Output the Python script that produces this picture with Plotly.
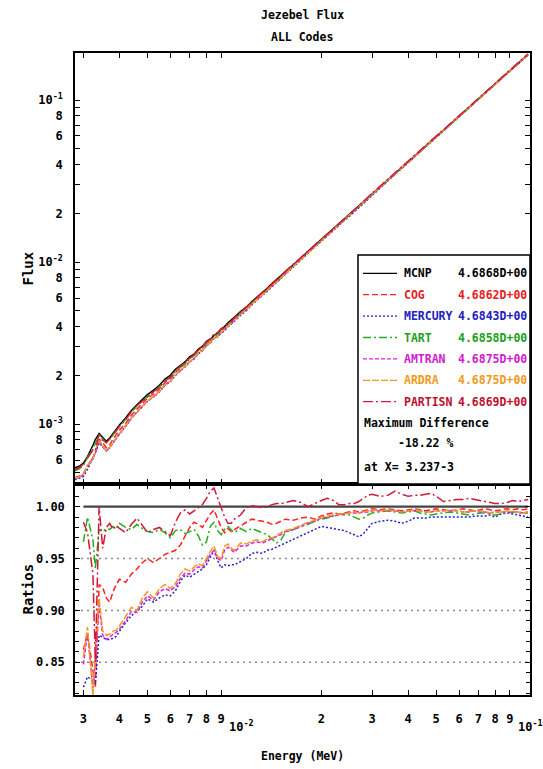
import math
import plotly.graph_objects as go

# ---------------- data ----------------
energy_mev = [2.8e-3, 2.9e-3, 3.0e-3, 3.1e-3, 3.237e-3, 3.3e-3, 3.4e-3, 3.5e-3, 3.6e-3, 3.7e-3,
              3.8e-3, 3.9e-3, 4.0e-3, 4.2e-3, 4.4e-3, 4.6e-3, 4.8e-3,
              5.0e-3, 5.25e-3, 5.5e-3, 5.75e-3, 6.0e-3, 6.25e-3, 6.5e-3, 6.75e-3, 7.0e-3, 7.25e-3,
              7.5e-3, 7.75e-3, 8.0e-3, 8.25e-3, 8.5e-3, 8.75e-3, 9.0e-3, 9.25e-3, 9.5e-3, 9.75e-3,
              1.0e-2, 1.05e-2, 1.1e-2, 1.15e-2, 1.2e-2, 1.25e-2, 1.3e-2, 1.35e-2, 1.4e-2, 1.45e-2, 1.5e-2,
              1.6e-2, 1.7e-2, 1.8e-2, 1.9e-2, 2.0e-2, 2.1e-2, 2.2e-2, 2.3e-2, 2.4e-2, 2.5e-2, 2.6e-2,
              2.7e-2, 2.8e-2, 2.9e-2, 3.0e-2,
              3.2e-2, 3.4e-2, 3.6e-2, 3.8e-2, 4.0e-2, 4.2e-2, 4.4e-2, 4.6e-2, 4.8e-2, 5.0e-2,
              5.3e-2, 5.6e-2, 5.9e-2, 6.2e-2, 6.5e-2, 6.8e-2, 7.1e-2, 7.4e-2, 7.7e-2, 8.0e-2,
              8.4e-2, 8.8e-2, 9.2e-2, 9.6e-2, 1.0e-1, 1.04e-1]

mcnp_flux = [5.37e-4, 5.50e-4, 5.75e-4, 6.31e-4, 7.41e-4, 8.04e-4, 8.75e-4, 8.32e-4, 7.85e-4, 8.22e-4,
             8.81e-4, 9.33e-4, 9.89e-4, 1.091e-3, 1.216e-3, 1.318e-3, 1.413e-3,
             1.521e-3, 1.622e-3, 1.738e-3, 1.897e-3, 2.004e-3, 2.178e-3, 2.291e-3, 2.421e-3, 2.600e-3, 2.704e-3,
             2.897e-3, 3.020e-3, 3.221e-3, 3.327e-3, 3.532e-3, 3.648e-3, 3.873e-3, 3.999e-3, 4.217e-3, 4.365e-3,
             4.571e-3, 4.943e-3, 5.272e-3, 5.715e-3, 6.081e-3, 6.516e-3, 6.902e-3, 7.362e-3, 7.780e-3, 8.222e-3, 8.710e-3,
             9.616e-3, 1.059e-2, 1.164e-2, 1.268e-2, 1.374e-2, 1.486e-2, 1.603e-2, 1.718e-2, 1.841e-2, 1.963e-2, 2.089e-2,
             2.218e-2, 2.355e-2, 2.489e-2, 2.624e-2,
             2.911e-2, 3.206e-2, 3.516e-2, 3.828e-2, 4.159e-2, 4.487e-2, 4.842e-2, 5.188e-2, 5.559e-2, 5.929e-2,
             6.516e-2, 7.112e-2, 7.727e-2, 8.375e-2, 9.016e-2, 9.705e-2, 0.1040, 0.1109, 0.1183, 0.1256,
             0.1358, 0.1462, 0.1570, 0.1683, 0.1795, 0.1910]

cog_ratio = [0.870, 0.870,
             0.862, 0.878, 0.842, 0.826, 0.925, 0.922, 0.912, 0.908, 0.918, 0.925, 0.930, 0.927, 0.935, 0.940, 0.946,
             0.950, 0.946, 0.950, 0.954, 0.956, 0.958, 0.963, 0.972, 0.980, 0.985, 0.983, 0.980, 0.986, 0.993, 0.997, 0.988, 0.980, 0.975, 0.979, 0.976,
             0.978, 0.982, 0.985, 0.988, 0.987, 0.986, 0.985, 0.983, 0.984, 0.986, 0.988,
             0.987, 0.989, 0.990, 0.988, 0.991, 0.993, 0.994, 0.993, 0.994, 0.995, 0.996, 0.995, 0.996, 0.997, 0.998,
             0.997, 0.998, 0.997, 0.996, 0.997, 0.998, 0.997, 0.996, 0.997, 0.998,
             0.997, 0.996, 0.997, 0.998, 0.997, 0.996, 0.997, 0.998, 0.997, 0.996,
             0.997, 0.998, 0.997, 0.998, 0.997, 0.998]

mercury_ratio = [0.845, 0.840,
                 0.826, 0.836, 0.832, 0.829, 0.876, 0.874, 0.872, 0.872, 0.873, 0.875, 0.880, 0.888, 0.895, 0.899, 0.904,
                 0.911, 0.908, 0.912, 0.915, 0.914, 0.919, 0.928, 0.934, 0.932, 0.935, 0.938, 0.940, 0.944, 0.951, 0.958, 0.948, 0.941, 0.944, 0.943, 0.944,
                 0.944, 0.947, 0.950, 0.955, 0.956, 0.955, 0.958, 0.959, 0.961, 0.963, 0.965,
                 0.968, 0.972, 0.975, 0.978, 0.981, 0.980, 0.979, 0.978, 0.977, 0.975, 0.973, 0.971, 0.974, 0.979, 0.984,
                 0.986, 0.987, 0.986, 0.984, 0.986, 0.989, 0.989, 0.989, 0.990, 0.990,
                 0.990, 0.990, 0.990, 0.990, 0.990, 0.991, 0.991, 0.991, 0.992, 0.990,
                 0.993, 0.994, 0.993, 0.992, 0.991, 0.990]

tart_ratio = [0.960, 0.965,
              0.966, 0.990, 0.968, 0.940, 0.978, 0.976, 0.979, 0.978, 0.981, 0.979, 0.984, 0.980, 0.978, 0.983, 0.979,
              0.976, 0.975, 0.978, 0.975, 0.970, 0.977, 0.978, 0.974, 0.976, 0.978, 0.972, 0.963, 0.966, 0.981, 0.985, 0.977, 0.973, 0.978, 0.981, 0.978,
              0.975, 0.979, 0.976, 0.979, 0.977, 0.975, 0.973, 0.969, 0.965, 0.968, 0.975,
              0.978, 0.981, 0.983, 0.986, 0.988, 0.989, 0.991, 0.993, 0.992, 0.992, 0.990, 0.988, 0.989, 0.992, 0.994,
              0.995, 0.996, 0.995, 0.994, 0.995, 0.996, 0.994, 0.993, 0.992, 0.993,
              0.994, 0.995, 0.994, 0.993, 0.992, 0.993, 0.994, 0.994, 0.993, 0.992,
              0.993, 0.994, 0.995, 0.994, 0.994, 0.994]

amtran_ratio = [0.860, 0.855,
                0.848, 0.878, 0.825, 0.852, 0.905, 0.876, 0.872, 0.874, 0.877, 0.879, 0.882, 0.890, 0.899, 0.898, 0.908,
                0.914, 0.910, 0.918, 0.921, 0.919, 0.923, 0.931, 0.936, 0.935, 0.939, 0.942, 0.941, 0.947, 0.954, 0.958, 0.950, 0.948, 0.958, 0.961, 0.958,
                0.956, 0.962, 0.962, 0.965, 0.966, 0.965, 0.967, 0.969, 0.971, 0.973, 0.976,
                0.978, 0.981, 0.984, 0.986, 0.989, 0.990, 0.991, 0.992, 0.993, 0.994, 0.994, 0.994, 0.995, 0.995, 0.996,
                0.996, 0.996, 0.996, 0.995, 0.996, 0.996, 0.996, 0.995, 0.995, 0.996,
                0.996, 0.996, 0.996, 0.995, 0.995, 0.996, 0.995, 0.995, 0.994, 0.995,
                0.995, 0.995, 0.995, 0.995, 0.994, 0.995]

ardra_ratio = [0.865, 0.860,
               0.855, 0.884, 0.8178, 0.860, 0.912, 0.880, 0.876, 0.877, 0.880, 0.881, 0.885, 0.894, 0.903, 0.900, 0.912,
               0.918, 0.912, 0.921, 0.925, 0.921, 0.926, 0.935, 0.940, 0.938, 0.942, 0.945, 0.943, 0.950, 0.957, 0.962, 0.952, 0.950, 0.962, 0.964, 0.960,
               0.958, 0.965, 0.964, 0.967, 0.968, 0.966, 0.969, 0.970, 0.972, 0.975, 0.977,
               0.979, 0.982, 0.985, 0.987, 0.990, 0.991, 0.992, 0.993, 0.993, 0.994, 0.995, 0.994, 0.995, 0.996, 0.997,
               0.996, 0.997, 0.996, 0.995, 0.996, 0.997, 0.996, 0.995, 0.995, 0.996,
               0.996, 0.997, 0.996, 0.995, 0.995, 0.996, 0.996, 0.995, 0.994, 0.995,
               0.995, 0.996, 0.995, 0.995, 0.994, 0.995]

partisn_ratio = [0.975, 0.980,
                 0.985, 0.975, 0.935, 0.850, 1.000, 0.960, 0.980, 0.984, 0.978, 0.982, 0.979, 0.975, 0.983, 0.989, 0.982,
                 0.975, 0.978, 0.980, 0.976, 0.972, 0.985, 0.994, 0.997, 0.993, 0.996, 0.999, 1.002, 1.008, 1.015, 1.018, 1.008, 0.998, 0.990, 0.984, 0.984,
                 0.988, 0.992, 0.999, 1.001, 1.000, 0.999, 1.000, 1.002, 1.003, 1.003, 1.004,
                 1.006, 1.004, 1.000, 1.003, 1.006, 1.008, 1.006, 1.002, 1.002, 1.003, 1.003, 1.005, 1.008, 1.011, 1.012,
                 1.010, 1.011, 1.015, 1.012, 1.010, 1.011, 1.011, 1.012, 1.013, 1.010,
                 1.005, 1.006, 1.007, 1.007, 1.008, 1.007, 1.006, 1.005, 1.004, 1.003,
                 1.003, 1.004, 1.006, 1.005, 1.006, 1.007]

codes = ["MCNP", "COG", "MERCURY", "TART", "AMTRAN", "ARDRA", "PARTISN"]
integral_text = ["4.6868D+00", "4.6862D+00", "4.6843D+00", "4.6858D+00",
                 "4.6875D+00", "4.6875D+00", "4.6869D+00"]
ratio_by_code = {
    "MCNP": [f / f for f in mcnp_flux],
    "COG": cog_ratio, "MERCURY": mercury_ratio, "TART": tart_ratio,
    "AMTRAN": amtran_ratio, "ARDRA": ardra_ratio, "PARTISN": partisn_ratio,
}
RATIO_START_MEV = 3.0e-3

x_tick_vals = [3e-3, 4e-3, 5e-3, 6e-3, 7e-3, 8e-3, 9e-3,
               2e-2, 3e-2, 4e-2, 5e-2, 6e-2, 7e-2, 8e-2, 9e-2]
x_tick_text = ["3", "4", "5", "6", "7", "8", "9",
               "2", "3", "4", "5", "6", "7", "8", "9"]
x_decade_vals = [1e-2, 1e-1]
x_decade_text = ["10<sup>-2</sup>", "10<sup>-1</sup>"]
flux_tick_vals = [6e-4, 8e-4, 1e-3, 2e-3, 4e-3, 6e-3, 8e-3,
                  1e-2, 2e-2, 4e-2, 6e-2, 8e-2, 1e-1]
flux_tick_text = ["6", "8", "10<sup>-3</sup>", "2", "4", "6", "8",
                  "10<sup>-2</sup>", "2", "4", "6", "8", "10<sup>-1</sup>"]
flux_minor_vals = [5e-4, 7e-4, 9e-4, 3e-3, 5e-3, 7e-3, 9e-3, 3e-2, 5e-2, 7e-2, 9e-2]
ratio_tick_vals = [0.85, 0.90, 0.95, 1.00]
ratio_tick_text = ["0.85", "0.90", "0.95", "1.00"]

# ---------------- style ----------------
styles = {
    "MCNP": dict(color="#000000", dash="solid", text="#000000"),
    "COG": dict(color="#ff2222", dash="6px,3px", text="#e82020"),
    "MERCURY": dict(color="#2222d0", dash="2px,2px", text="#2020c0"),
    "TART": dict(color="#22b022", dash="8px,3px,2px,3px", text="#20a020"),
    "AMTRAN": dict(color="#e020e0", dash="4px,2px", text="#d020d0"),
    "ARDRA": dict(color="#f09a20", dash="7px,2px", text="#f09a20"),
    "PARTISN": dict(color="#d01838", dash="10px,3px,2px,3px", text="#c01030"),
}
MONO = "DejaVu Sans Mono, Liberation Mono, monospace"
WT = "bold"

W, H = 543, 769
ML, MR, MT, MB = 75, 13, 53, 74
PW, PH = W - ML - MR, H - MT - MB
SPLIT = 211 / PH  # ratio panel height fraction
X_RANGE = [-2.552, -0.976]
Y_RANGE = [-3.369, -0.710]
R_RANGE = [0.8184, 1.0219]


def pxx(px):
    return (px - ML) / PW


def pxy(py):
    return (H - MB - py) / PH


def fnt(size, color="black"):
    return dict(family=MONO, size=size, color=color, weight=WT)


fig = go.Figure()

for code in codes:
    st = styles[code]
    flux = [m * r for m, r in zip(mcnp_flux, ratio_by_code[code])]
    fig.add_trace(go.Scatter(x=energy_mev, y=flux, mode="lines", name=code,
                             xaxis="x", yaxis="y",
                             line=dict(color=st["color"], dash=st["dash"], width=1.5)))

for code in codes:
    st = styles[code]
    xs = [e for e in energy_mev if e >= RATIO_START_MEV]
    ys = [r for e, r in zip(energy_mev, ratio_by_code[code]) if e >= RATIO_START_MEV]
    if code == "MCNP":
        line = dict(color="#444444", width=2.2)
    else:
        line = dict(color=st["color"], dash=st["dash"], width=1.5)
    fig.add_trace(go.Scatter(x=xs, y=ys, mode="lines", name=code,
                             xaxis="x2", yaxis="y2", line=line))

axis_common = dict(showline=True, linecolor="black", linewidth=1.5, mirror="allticks",
                   ticks="inside", ticklen=5, tickwidth=1, tickcolor="black",
                   showgrid=False, zeroline=False, tickangle=0,
                   tickfont=fnt(12))

fig.update_layout(
    width=W, height=H,
    margin=dict(l=ML, r=MR, t=MT, b=MB),
    paper_bgcolor="white", plot_bgcolor="white",
    showlegend=False,
    font=dict(family=MONO, size=12, color="black"),
    xaxis=dict(type="log", range=X_RANGE, domain=[0, 1], anchor="y",
               tickmode="array", tickvals=x_tick_vals, ticktext=x_tick_text,
               showticklabels=False, **axis_common),
    yaxis=dict(type="log", range=Y_RANGE, domain=[SPLIT, 1], anchor="x",
               tickmode="array", tickvals=flux_tick_vals, ticktext=flux_tick_text,
               minor=dict(tickmode="array", tickvals=flux_minor_vals, ticklen=5,
                          ticks="inside", tickcolor="black", showgrid=False),
               ticklabelstandoff=8, **axis_common),
    xaxis2=dict(type="log", range=X_RANGE, domain=[0, 1], anchor="y2",
                tickmode="array", tickvals=x_tick_vals, ticktext=x_tick_text,
                ticklabelstandoff=12, **axis_common),
    yaxis2=dict(range=R_RANGE, domain=[0, SPLIT], anchor="x2",
                tickmode="array", tickvals=ratio_tick_vals, ticktext=ratio_tick_text,
                ticklabelstandoff=6,
                minor=dict(dtick=0.01, ticklen=4, ticks="inside", tickcolor="black"),
                **axis_common),
)

shapes = []
grid = dict(color="#888888", width=1.5, dash="2px,4px")
for xv in [1e-2, 1e-1]:
    lx = math.log10(xv)
    shapes.append(dict(type="line", xref="x", yref="paper", x0=lx, x1=lx, y0=0, y1=1,
                       line=grid, layer="below"))
for yv in [1e-3, 1e-2, 1e-1]:
    ly = math.log10(yv)
    shapes.append(dict(type="line", xref="paper", yref="y", x0=0, x1=1, y0=ly, y1=ly,
                       line=grid, layer="below"))
for rv in [0.85, 0.90, 0.95]:
    shapes.append(dict(type="line", xref="paper", yref="y2", x0=0, x1=1, y0=rv, y1=rv,
                       line=grid, layer="below"))

# longer ticks at the 5s
tv = 12 / PH
th = 12 / PW
for xv in [5e-3, 5e-2]:
    lx = math.log10(xv)
    for y0, y1 in [(1 - tv, 1), (SPLIT - tv, SPLIT + tv), (0, tv)]:
        shapes.append(dict(type="line", xref="x", yref="paper", x0=lx, x1=lx, y0=y0, y1=y1,
                           line=dict(color="black", width=1)))
for yv in [5e-4, 5e-3, 5e-2]:
    ly = math.log10(yv)
    for x0, x1 in [(0, th), (1 - th, 1)]:
        shapes.append(dict(type="line", xref="paper", yref="y", x0=x0, x1=x1, y0=ly, y1=ly,
                           line=dict(color="black", width=1)))

# legend box
shapes.append(dict(type="rect", xref="paper", yref="paper",
                   x0=pxx(358), x1=1, y0=SPLIT, y1=pxy(255),
                   fillcolor="white", line=dict(color="black", width=1.5), layer="above"))

LEG = 11.5
annotations = []

# decade labels of the energy axis, set a little lower as in the original
for xv, txt in zip(x_decade_vals, x_decade_text):
    annotations.append(dict(xref="x", yref="paper", x=math.log10(xv), y=pxy(726),
                            text=txt, showarrow=False, xanchor="left", yanchor="middle",
                            xshift=-7, font=fnt(12)))

row0, drow = 273.3, 21.4
for i, code in enumerate(codes):
    st = styles[code]
    py = row0 + i * drow
    shapes.append(dict(type="line", xref="paper", yref="paper",
                       x0=pxx(363), x1=pxx(397), y0=pxy(py), y1=pxy(py),
                       line=dict(color=st["color"], dash=st["dash"], width=1.3), layer="above"))
    annotations.append(dict(xref="paper", yref="paper", x=pxx(402), y=pxy(py),
                            text=code, showarrow=False, xanchor="left", yanchor="middle",
                            font=fnt(LEG, st["text"])))
    annotations.append(dict(xref="paper", yref="paper", x=pxx(456), y=pxy(py),
                            text=integral_text[i], showarrow=False, xanchor="left", yanchor="middle",
                            font=fnt(LEG, st["text"])))

# maximum difference from the data
worst = (1.0, None)
for code in codes[1:]:
    for e, r in zip(energy_mev, ratio_by_code[code]):
        if e >= RATIO_START_MEV and r < worst[0]:
            worst = (r, e)
max_diff = (worst[0] - 1.0) * 100.0
exp = int(math.floor(math.log10(worst[1])))
mant = worst[1] / 10 ** exp
annotations += [
    dict(xref="paper", yref="paper", x=pxx(362), y=pxy(423.3), text="Maximum Difference",
         showarrow=False, xanchor="left", yanchor="middle", font=fnt(LEG)),
    dict(xref="paper", yref="paper", x=pxx(396), y=pxy(443.3), text=f"{max_diff:.2f} %",
         showarrow=False, xanchor="left", yanchor="middle", font=fnt(LEG)),
    dict(xref="paper", yref="paper", x=pxx(362), y=pxy(466.7), text=f"at X= {mant:.3f}{exp}",
         showarrow=False, xanchor="left", yanchor="middle", font=fnt(LEG)),
]

# titles
annotations += [
    dict(xref="paper", yref="paper", x=pxx(302), y=pxy(15), text="Jezebel Flux",
         showarrow=False, xanchor="center", yanchor="middle", font=fnt(11.5)),
    dict(xref="paper", yref="paper", x=pxx(302), y=pxy(37), text="ALL Codes",
         showarrow=False, xanchor="center", yanchor="middle", font=fnt(11.5)),
    dict(xref="paper", yref="paper", x=pxx(27), y=pxy(268.5), text="Flux", textangle=-90,
         showarrow=False, xanchor="center", yanchor="middle", font=fnt(14)),
    dict(xref="paper", yref="paper", x=pxx(27), y=pxy(589.5), text="Ratios", textangle=-90,
         showarrow=False, xanchor="center", yanchor="middle", font=fnt(14)),
    dict(xref="paper", yref="paper", x=pxx(302), y=pxy(756), text="Energy (MeV)",
         showarrow=False, xanchor="center", yanchor="middle", font=fnt(11.5)),
]

fig.update_layout(shapes=shapes, annotations=annotations)
fig.write_html("out.html")
